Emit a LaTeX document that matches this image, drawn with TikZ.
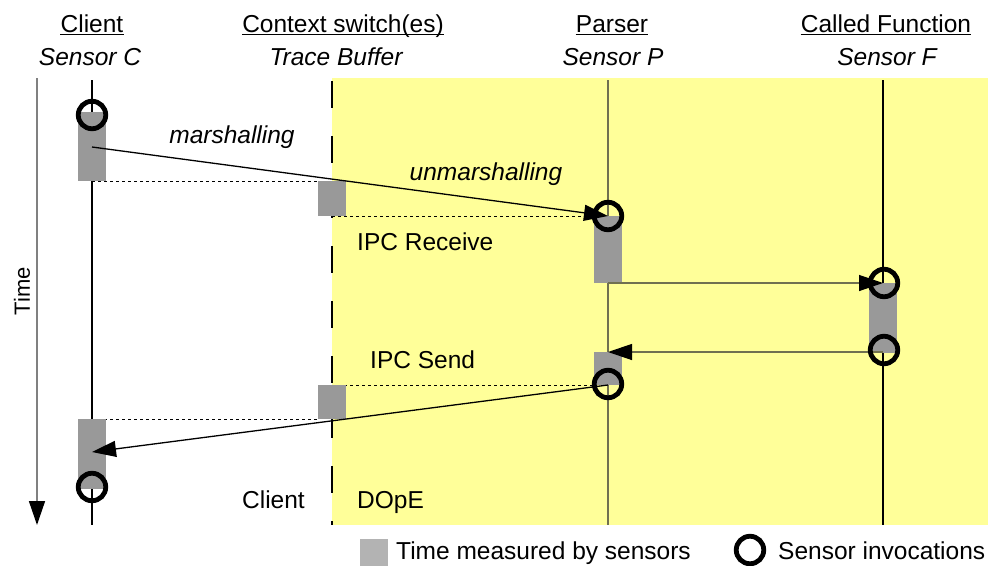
\documentclass[tikz,border=0pt]{standalone}
\usepackage{fontspec}
\setmainfont{Liberation Sans}
\usetikzlibrary{arrows.meta}

\definecolor{dopeyellow}{RGB}{255,255,153}
\definecolor{actgray}{RGB}{153,153,153}
\definecolor{legendgray}{RGB}{179,179,179}
\definecolor{olivegray}{RGB}{112,112,80}
\definecolor{axisgray}{RGB}{128,128,128}

\begin{document}
\begin{tikzpicture}[x=1pt,y=-1pt,
  txt/.style={font=\fontsize{24.5}{28}\selectfont, inner sep=0pt, anchor=base},
  itxt/.style={txt, font=\fontsize{24.5}{28}\selectfont\itshape},
  title/.style={txt},
  lifeline/.style={line width=1.2pt},
  actbox/.style={fill=actgray, minimum width=28pt, inner sep=0pt, outer sep=0pt, anchor=north},
  sensor/.style={circle, draw=black, line width=4.8pt, minimum size=27.5pt, inner sep=0pt},
  msg/.style={line width=1.3pt, -{Triangle[length=24pt,width=16pt,color=black]}},
  tracedash/.style={line width=1pt, dash pattern=on 3pt off 3pt},
]
\useasboundingbox (0,0) rectangle (988,565);

% DOpE region
\fill[dopeyellow] (332,78) rectangle (988,525);

% column headings
\node[title] (hC) at (92,32) {Client};
\node[title] (hX) at (343,32) {Context switch(es)};
\node[title] (hP) at (612,32) {Parser};
\node[title] (hF) at (886,32) {Called Function};
\foreach \n in {hC,hX,hP,hF}
  \draw[line width=1.2pt] ([yshift=-2.6pt]\n.base west) -- ([yshift=-2.6pt]\n.base east);
\node[itxt] (sC) at (90,65) {Sensor C};
\node[itxt] (sT) at (336,65) {Trace Buffer};
\node[itxt] (sP) at (613,65) {Sensor P};
\node[itxt] (sF) at (887,65) {Sensor F};

% time axis
\coordinate (t0) at (37,78);
\coordinate (t1) at (37,525);
\draw[axisgray, line width=1.5pt, -{Triangle[length=24pt,width=16pt,color=black]}] (t0) -- (t1);
\node[font=\fontsize{22}{26}\selectfont, inner sep=0pt, rotate=90] (time) at (22,291) {Time};

% context switch boundary
\coordinate (x0) at (332,81);
\coordinate (x1) at (332,525);
\draw[line width=1.3pt, dash pattern=on 27pt off 28pt] (x0) -- (x1);

% lifelines
\coordinate (lc0) at (92,80);  \coordinate (lc1) at (92,525);
\coordinate (lp0) at (608,80); \coordinate (lp1) at (608,525);
\coordinate (lf0) at (883,80); \coordinate (lf1) at (883,525);
\draw[lifeline] (lc0) -- (lc1);
\draw[lifeline, olivegray] (lp0) -- (lp1);
\draw[lifeline] (lf0) -- (lf1);

% trace buffer entries
\coordinate (d1a) at (92,181);  \coordinate (d1b) at (318,181);
\coordinate (d2a) at (332,216); \coordinate (d2b) at (594,216);
\coordinate (d3a) at (332,385); \coordinate (d3b) at (594,385);
\coordinate (d4a) at (92,419);  \coordinate (d4b) at (318,419);
\draw[tracedash] (d1a) -- (d1b);
\draw[tracedash] (d2a) -- (d2b);
\draw[tracedash] (d3a) -- (d3b);
\draw[tracedash] (d4a) -- (d4b);

% measured time intervals
\node[actbox, minimum height=69pt] (c1) at (92,112) {};
\node[actbox, minimum height=35pt] (b1) at (332,181) {};
\node[actbox, minimum height=67pt] (p1) at (608,216) {};
\node[actbox, minimum height=70pt] (f1) at (883,283) {};
\node[actbox, minimum height=33pt] (p2) at (608,352) {};
\node[actbox, minimum height=34pt] (b2) at (332,385) {};
\node[actbox, minimum height=70pt] (c2) at (92,419) {};

% messages
\coordinate (m1a) at (92,147);  \coordinate (m1b) at (608,216);
\coordinate (m2a) at (608,283); \coordinate (m2b) at (883,283);
\coordinate (m3a) at (883,352); \coordinate (m3b) at (608,352);
\coordinate (m4a) at (608,385); \coordinate (m4b) at (92,452);
\draw[msg] (m1a) -- (m1b);
\draw[msg, olivegray] (m2a) -- (m2b);
\draw[msg, olivegray] (m3a) -- (m3b);
\draw[msg] (m4a) -- (m4b);

% sensor invocations
\node[sensor] (s1) at (92,115) {};
\node[sensor] (s2) at (608,216) {};
\node[sensor] (s3) at (884,283) {};
\node[sensor] (s4) at (884,350) {};
\node[sensor] (s5) at (608,384) {};
\node[sensor] (s6) at (92,487) {};

% labels
\node[itxt] (lm) at (232,143) {marshalling};
\node[itxt] (lu) at (486,180) {unmarshalling};
\node[txt, anchor=base west] (lr) at (357,250) {IPC Receive};
\node[txt, anchor=base west] (ls) at (370,368) {IPC Send};
\node[txt, anchor=base east] (lcl) at (305,508) {Client};
\node[txt, anchor=base west] (ld) at (357,508) {DOpE};

% legend
\node[fill=legendgray, minimum width=28pt, minimum height=27pt, inner sep=0pt, anchor=north west] (gbox) at (360,539) {};
\node[txt, anchor=base west] (gtxt) at (396,559.5) {Time measured by sensors};
\node[sensor] (gsen) at (750,550) {};
\node[txt, anchor=base west] (gstxt) at (778,559.5) {Sensor invocations};
\end{tikzpicture}
\end{document}
